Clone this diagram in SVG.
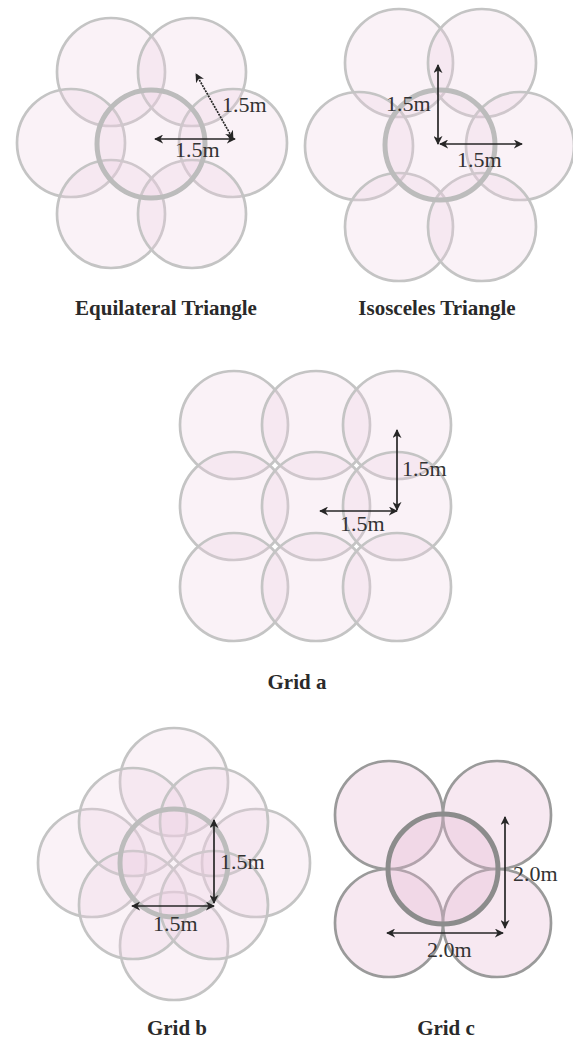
<svg xmlns="http://www.w3.org/2000/svg" width="573" height="1039" viewBox="0 0 573 1039">
  <style>
    .c { fill: #ebcfe3; fill-opacity: 0.27; stroke: #c4c4c4; stroke-width: 2.7; }
    .ck { fill: #ebcfe3; fill-opacity: 0.27; stroke: #bcbcbc; stroke-width: 5; }
    .d { fill: #e6b8d4; fill-opacity: 0.32; stroke: #9a9a9a; stroke-width: 2.7; }
    .dk { fill: #e6b8d4; fill-opacity: 0.32; stroke: #8c8c8c; stroke-width: 5; }
    .a { stroke: #262626; stroke-width: 1.7; fill: none; marker-start: url(#ah); marker-end: url(#ah); }
    .lbl { font-family: "Liberation Serif", "Times New Roman", serif; font-size: 22px; fill: #333; }
    .cap { font-family: "Liberation Serif", "Times New Roman", serif; font-size: 21px; font-weight: bold; fill: #2a2a2a; text-anchor: middle; }
  </style>
  <defs>
    <marker id="ah" viewBox="0 0 10 10" refX="9" refY="5" markerWidth="9" markerHeight="9" markerUnits="userSpaceOnUse" orient="auto-start-reverse">
      <path d="M0,0 L10,5 L0,10 L3,5 Z" fill="#262626"/>
    </marker>
  </defs>

  <rect width="573" height="1039" fill="#ffffff"/>

  <!-- Equilateral triangle layout -->
  <g id="equilateral">
    <circle class="c" cx="111" cy="72" r="54"/>
    <circle class="c" cx="192" cy="72" r="54"/>
    <circle class="c" cx="71" cy="143" r="54"/>
    <circle class="c" cx="233" cy="143" r="54"/>
    <circle class="c" cx="111" cy="214" r="54"/>
    <circle class="c" cx="192" cy="214" r="54"/>
    <circle class="ck" cx="151" cy="144" r="54"/>
    <text class="lbl" x="222" y="112">1.5m</text>
    <text class="lbl" x="175" y="157">1.5m</text>
    <text class="cap" x="166" y="315">Equilateral Triangle</text>
  </g>

  <!-- Isosceles triangle layout -->
  <g id="isosceles">
    <circle class="c" cx="399" cy="63" r="54"/>
    <circle class="c" cx="482" cy="63" r="54"/>
    <circle class="c" cx="359" cy="146" r="54"/>
    <circle class="c" cx="520" cy="146" r="54"/>
    <circle class="c" cx="399" cy="227" r="54"/>
    <circle class="c" cx="482" cy="227" r="54"/>
    <circle class="ck" cx="440" cy="145" r="55"/>
    <text class="lbl" x="386" y="111">1.5m</text>
    <text class="lbl" x="457" y="167">1.5m</text>
    <text class="cap" x="437" y="315">Isosceles Triangle</text>
  </g>

  <!-- Grid a: 3 x 3 square grid -->
  <g id="grid-a">
    <circle class="c" cx="234" cy="425" r="54"/>
    <circle class="c" cx="316" cy="425" r="54"/>
    <circle class="c" cx="397" cy="425" r="54"/>
    <circle class="c" cx="234" cy="506" r="54"/>
    <circle class="c" cx="316" cy="506" r="54"/>
    <circle class="c" cx="397" cy="506" r="54"/>
    <circle class="c" cx="234" cy="587" r="54"/>
    <circle class="c" cx="316" cy="587" r="54"/>
    <circle class="c" cx="397" cy="587" r="54"/>
    <text class="lbl" x="402" y="476">1.5m</text>
    <text class="lbl" x="340" y="531">1.5m</text>
    <text class="cap" x="297" y="689">Grid a</text>
  </g>

  <!-- Grid b: centre, four cardinal and four diagonal circles -->
  <g id="grid-b">
    <circle class="c" cx="174" cy="782" r="54"/>
    <circle class="c" cx="92" cy="863" r="54"/>
    <circle class="c" cx="256" cy="863" r="54"/>
    <circle class="c" cx="174" cy="946" r="54"/>
    <circle class="c" cx="133" cy="822" r="54"/>
    <circle class="c" cx="214" cy="822" r="54"/>
    <circle class="c" cx="133" cy="905" r="54"/>
    <circle class="c" cx="214" cy="905" r="54"/>
    <circle class="ck" cx="174" cy="863" r="54"/>
    <text class="lbl" x="220" y="869">1.5m</text>
    <text class="lbl" x="153" y="931">1.5m</text>
    <text class="cap" x="177" y="1035">Grid b</text>
  </g>

  <!-- Grid c: four tangent circles around a centre circle -->
  <g id="grid-c">
    <circle class="d" cx="389" cy="815" r="54"/>
    <circle class="d" cx="497" cy="815" r="54"/>
    <circle class="d" cx="389" cy="923" r="54"/>
    <circle class="d" cx="497" cy="923" r="54"/>
    <circle class="dk" cx="443" cy="869" r="55"/>
    <text class="lbl" x="513" y="881">2.0m</text>
    <text class="lbl" x="427" y="957">2.0m</text>
    <text class="cap" x="446" y="1035">Grid c</text>
  </g>

  <!-- Spacing dimension arrows -->
  <g id="connectors">
    <line class="a" x1="235" y1="139" x2="155" y2="139"/>
    <line class="a" x1="233" y1="139" x2="196" y2="74" stroke-dasharray="2 1"/>
    <line class="a" x1="438" y1="144" x2="438" y2="65"/>
    <line class="a" x1="440" y1="144" x2="522" y2="144"/>
    <line class="a" x1="397" y1="510" x2="397" y2="430"/>
    <line class="a" x1="397" y1="511" x2="320" y2="511"/>
    <line class="a" x1="214" y1="903" x2="214" y2="820"/>
    <line class="a" x1="214" y1="906" x2="132" y2="906"/>
    <line class="a" x1="505" y1="928" x2="505" y2="817"/>
    <line class="a" x1="503" y1="933" x2="387" y2="933"/>
  </g>
</svg>
